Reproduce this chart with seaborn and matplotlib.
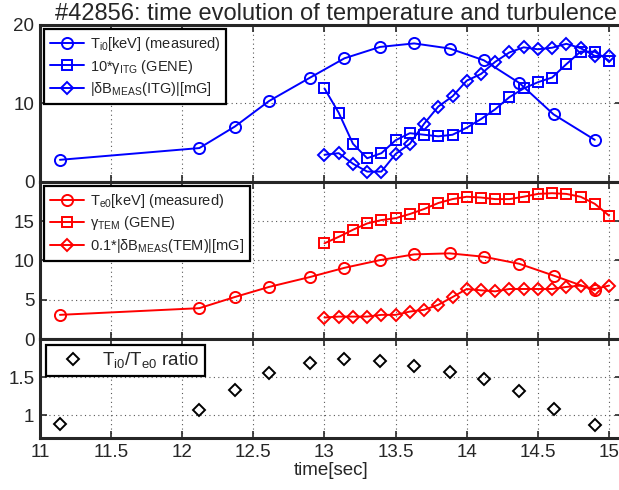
import numpy as np
import pandas as pd
import matplotlib
matplotlib.use("Agg")
import matplotlib.pyplot as plt
import seaborn as sns

# shot times (profile fits) and GENE/reflectometer times
t_prof = [11.14, 12.12, 12.37, 12.61, 12.90, 13.14, 13.39, 13.63, 13.88, 14.12, 14.37, 14.61, 14.90]
t_gene = [13.0, 13.1, 13.2, 13.3, 13.4, 13.5, 13.6, 13.7, 13.8, 13.9, 14.0,
          14.1, 14.2, 14.3, 14.4, 14.5, 14.6, 14.7, 14.8, 14.9, 15.0]

# ion side
ti0 = [2.8, 4.3, 7.05, 10.3, 13.3, 15.75, 17.2, 17.65, 17.0, 15.5, 12.6, 8.6, 5.35]
gamma_itg = [11.9, 8.8, 4.85, 3.0, 3.65, 5.3, 6.2, 6.0, 5.8, 6.0, 6.9,
             8.0, 9.25, 10.8, 11.9, 12.7, 13.3, 15.0, 16.6, 16.6, 15.45]
db_itg = [3.45, 3.65, 2.3, 1.3, 1.3, 3.55, 4.85, 7.4, 9.6, 10.9, 12.9,
          13.75, 15.3, 16.5, 17.15, 16.9, 17.1, 17.6, 17.05, 16.05, 16.05]

# electron side
te0 = [3.08, 3.93, 5.35, 6.63, 7.9, 9.06, 10.04, 10.77, 10.9, 10.47, 9.57, 8.08, 6.2]
gamma_tem = [12.18, 13.0, 13.9, 14.7, 15.13, 15.38, 15.9, 16.54, 17.3, 17.8, 18.1,
             18.0, 17.8, 17.8, 18.1, 18.46, 18.55, 18.46, 18.1, 17.2, 15.7]
db_tem = [2.74, 2.86, 2.86, 2.86, 3.08, 3.08, 3.5, 3.72, 4.36, 5.34, 6.37,
          6.2, 6.07, 6.37, 6.37, 6.37, 6.37, 6.63, 6.8, 6.37, 6.8]

# Ti0/Te0
ratio = [0.88, 1.066, 1.33, 1.55, 1.68, 1.74, 1.71, 1.64, 1.57, 1.48, 1.32, 1.08, 0.87]

sns.set_style("ticks")
plt.rcParams["font.family"] = ["Liberation Sans", "DejaVu Sans"]
plt.rcParams["mathtext.fontset"] = "custom"
plt.rcParams["mathtext.rm"] = "Liberation Sans"
plt.rcParams["mathtext.it"] = "Liberation Sans:italic"
plt.rcParams["mathtext.bf"] = "Liberation Sans:bold"

fig = plt.figure(figsize=(6.19, 4.9), dpi=100)
left, width = 40 / 619, 582 / 619
ax1 = fig.add_axes([left, 0.629, width, 0.320])
ax2 = fig.add_axes([left, 0.308, width, 0.321])
ax3 = fig.add_axes([left, 0.106, width, 0.202])

line_kw = dict(linewidth=1.4, markerfacecolor="none", markeredgewidth=1.4)


def draw(ax, x, y, color, marker, ms, label):
    sns.lineplot(x=x, y=y, ax=ax, color=color, marker=marker, markersize=ms,
                 markeredgecolor=color, label=label, **line_kw)


draw(ax1, t_prof, ti0, "blue", "o", 8, r"T$_{\mathrm{i0}}$[keV] (measured)")
draw(ax1, t_gene, gamma_itg, "blue", "s", 6.5, r"10*γ$_{\mathrm{ITG}}$ (GENE)")
draw(ax1, t_gene, db_itg, "blue", "D", 6, r"|δB$_{\mathrm{MEAS}}$(ITG)|[mG]")

draw(ax2, t_prof, te0, "red", "o", 8, r"T$_{\mathrm{e0}}$[keV] (measured)")
draw(ax2, t_gene, gamma_tem, "red", "s", 6.5, r"γ$_{\mathrm{TEM}}$ (GENE)")
draw(ax2, t_gene, db_tem, "red", "D", 6, r"0.1*|δB$_{\mathrm{MEAS}}$(TEM)|[mG]")

sns.lineplot(x=t_prof, y=ratio, ax=ax3, color="black", linestyle="none",
             marker="D", markersize=6.5, markerfacecolor="none",
             markeredgecolor="black", markeredgewidth=1.4,
             label=r"T$_{\mathrm{i0}}$/T$_{\mathrm{e0}}$ ratio")

xmax = 15 + (622 - 609) / 142.25
for ax in (ax1, ax2, ax3):
    ax.set_xlim(11, xmax)
    ax.set_xticks([11, 11.5, 12, 12.5, 13, 13.5, 14, 14.5, 15])
    ax.grid(True, linestyle=(0, (1, 3)), color="0.35", linewidth=0.8)
    ax.tick_params(direction="in", length=5, width=1.2, top=True, right=True,
                   labelsize=13.5, pad=4)
    for s in ax.spines.values():
        s.set_linewidth(2.2)
    ax.set_xlabel("")
    ax.set_ylabel("")

ax1.set_ylim(0, 20)
ax1.set_yticks([0, 10, 20])
ax2.set_ylim(0, 20)
ax2.set_yticks([0, 5, 10, 15])
ax3.set_ylim(0.7, 2.0)
ax3.set_yticks([1, 1.5])
ax3.set_yticklabels(["1", "1.5"])
ax1.tick_params(labelbottom=False)
ax2.tick_params(labelbottom=False)
ax3.set_xticklabels(["11", "11.5", "12", "12.5", "13", "13.5", "14", "14.5", "15"])
ax3.set_xlabel("time[sec]", fontsize=13.5, labelpad=1)

ax1.set_title("#42856: time evolution of temperature and turbulence",
              fontsize=17, pad=3, x=(336 - 40) / 582)

leg_kw = dict(loc="upper left", fancybox=False, edgecolor="black",
              framealpha=1, borderaxespad=0.3, handlelength=2.3,
              labelspacing=0.3, handletextpad=0.4, borderpad=0.4)
for ax, fs in ((ax1, 10.5), (ax2, 10.5)):
    lg = ax.legend(fontsize=fs, **leg_kw)
    lg.get_frame().set_linewidth(1.6)
lg = ax3.legend(fontsize=13.5, borderpad=0.3, **{k: v for k, v in leg_kw.items() if k != "borderpad"})
lg.get_frame().set_linewidth(1.6)

fig.savefig("out.png", dpi=100)
